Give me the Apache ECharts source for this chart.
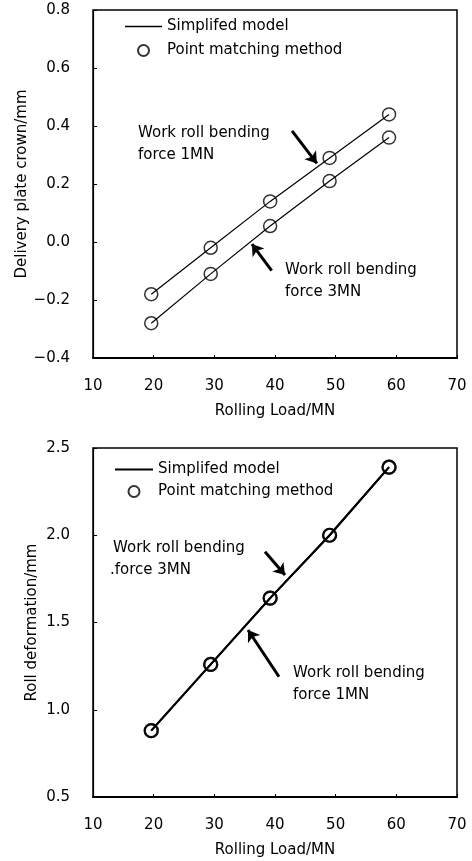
<!DOCTYPE html>
<html>
<head>
<meta charset="utf-8">
<script src="https://cdn.jsdelivr.net/npm/echarts@6/dist/echarts.min.js"></script>
<style>
html,body{margin:0;padding:0;background:#fff;}
#c{width:472px;height:861px;}
</style>
</head>
<body>
<div id="c"></div>
<script>
// ---- data ----
const loads = [19.6, 29.4, 39.2, 49.0, 58.8];
const crown1MN = [-0.18, -0.02, 0.14, 0.29, 0.44];
const crown3MN = [-0.28, -0.11, 0.055, 0.21, 0.36];
const deform1MN = [0.88, 1.26, 1.64, 2.00, 2.39];
const deform3MN = [0.88, 1.26, 1.64, 2.00, 2.39];
const xTicks = [10, 20, 30, 40, 50, 60, 70];
const crownTicks = [-0.4, -0.2, 0.0, 0.2, 0.4, 0.6, 0.8];
const deformTicks = [0.5, 1.0, 1.5, 2.0, 2.5];
const legendNames = ['Simplifed model', 'Point matching method'];
// annotation arrows [tail, tip] in data coordinates
const crownArrow1MN = [[42.8, 0.383], [46.9, 0.271]];
const crownArrow3MN = [[39.45, -0.099], [36.2, -0.007]];
const deformArrow3MN = [[38.35, 1.906], [41.65, 1.772]];
const deformArrow1MN = [[40.66, 1.189], [35.55, 1.457]];

const FONT = 'DejaVu Sans';
const FS = 15;
const zip = (xs, ys) => xs.map((x, i) => [x, ys[i]]);
const fmt = v => (v < 0 ? '\u2212' + Math.abs(v).toFixed(1) : v.toFixed(1));

const chart = echarts.init(document.getElementById('c'), null, {renderer: 'canvas'});

function xAxis(gridIndex) {
  return {
    type: 'value', gridIndex, min: xTicks[0], max: xTicks[xTicks.length - 1], interval: 10,
    name: 'Rolling Load/MN', nameLocation: 'middle', nameGap: 46, nameMoveOverlap: false,
    nameTextStyle: {color: '#000', fontSize: FS, fontFamily: FONT},
    axisLine: {show: true, onZero: false, lineStyle: {color: '#000', width: 2}},
    axisTick: {show: true, inside: true, length: 3, lineStyle: {color: '#000', width: 1}},
    axisLabel: {color: '#000', fontSize: FS, fontFamily: FONT, margin: 21},
    splitLine: {show: false}
  };
}
function yAxis(gridIndex, ticks, name, gap) {
  return {
    type: 'value', gridIndex, min: ticks[0], max: ticks[ticks.length - 1],
    interval: +(ticks[1] - ticks[0]).toFixed(2),
    name, nameLocation: 'middle', nameGap: gap, nameMoveOverlap: false,
    nameTextStyle: {color: '#000', fontSize: FS, fontFamily: FONT},
    axisLine: {show: true, onZero: false, lineStyle: {color: '#000', width: 1.2}},
    axisTick: {show: true, inside: true, length: 4, lineStyle: {color: '#000', width: 1}},
    axisLabel: {color: '#000', fontSize: FS, fontFamily: FONT, margin: 23, formatter: fmt},
    splitLine: {show: false}
  };
}
function lineSeries(xi, yi, data, w, arrow) {
  return {
    type: 'line', name: legendNames[0], xAxisIndex: xi, yAxisIndex: yi,
    data, symbol: 'none', lineStyle: {color: '#000', width: w}, itemStyle: {color: '#000'},
    z: 2,
    markLine: {
      silent: true, symbol: ['none', 'arrow'], symbolSize: 11,
      label: {show: false},
      lineStyle: {color: '#000', width: 3, type: 'solid'},
      data: [[{coord: arrow[0]}, {coord: arrow[1]}]]
    }
  };
}
function scatterSeries(xi, yi, data, bw) {
  return {
    type: 'scatter', name: legendNames[1], xAxisIndex: xi, yAxisIndex: yi,
    data, symbol: 'circle', symbolSize: 13,
    itemStyle: {color: 'rgba(0,0,0,0)', borderColor: '#000', borderWidth: bw},
    z: 3
  };
}
function legend(left, top, itemWidth, gap, thick) {
  return {
    data: [
      {name: legendNames[0], icon: 'path://M0,0H100V' + thick + 'H0Z', itemStyle: {color: '#000'}},
      {name: legendNames[1]}
    ],
    orient: 'vertical', left, top, padding: 0,
    itemWidth, itemHeight: 11, itemGap: gap, selectedMode: false,
    textStyle: {color: '#000', fontSize: FS, fontFamily: FONT, padding: [0, 0, 0, 0]}
  };
}
function txt(x, y, s) {
  return {type: 'text', left: x, top: y - 9, style: {text: s, fill: '#000', font: FS + 'px "' + FONT + '"'}};
}

chart.setOption({
  animation: false,
  backgroundColor: '#fff',
  grid: [
    {left: 93, top: 10, width: 364, height: 348, show: true, borderColor: '#000', borderWidth: 1.5, backgroundColor: 'transparent'},
    {left: 93, top: 448, width: 364, height: 349, show: true, borderColor: '#000', borderWidth: 1.5, backgroundColor: 'transparent'}
  ],
  xAxis: [xAxis(0), xAxis(1)],
  yAxis: [
    yAxis(0, crownTicks, 'Delivery plate crown/mm', 63),
    yAxis(1, deformTicks, 'Roll deformation/mm', 53)
  ],
  legend: [legend(125, 19, 37, 9, 3.5), legend(115, 462, 38, 7, 5.5)],
  series: [
    lineSeries(0, 0, zip(loads, crown1MN), 1.2, crownArrow1MN),
    lineSeries(0, 0, zip(loads, crown3MN), 1.2, crownArrow3MN),
    scatterSeries(0, 0, zip(loads, crown1MN), 1.5),
    scatterSeries(0, 0, zip(loads, crown3MN), 1.5),
    lineSeries(1, 1, zip(loads, deform1MN), 2, deformArrow1MN),
    lineSeries(1, 1, zip(loads, deform3MN), 2, deformArrow3MN),
    scatterSeries(1, 1, zip(loads, deform1MN), 2.2),
    scatterSeries(1, 1, zip(loads, deform3MN), 2.2)
  ],
  graphic: [
    txt(138, 135, 'Work roll bending'),
    txt(138, 157, 'force 1MN'),
    txt(285, 272, 'Work roll bending'),
    txt(285, 294, 'force 3MN'),
    txt(113, 550, 'Work roll bending'),
    txt(110, 572, '.force 3MN'),
    txt(293, 675, 'Work roll bending'),
    txt(293, 697, 'force 1MN')
  ]
});
</script>
</body>
</html>
